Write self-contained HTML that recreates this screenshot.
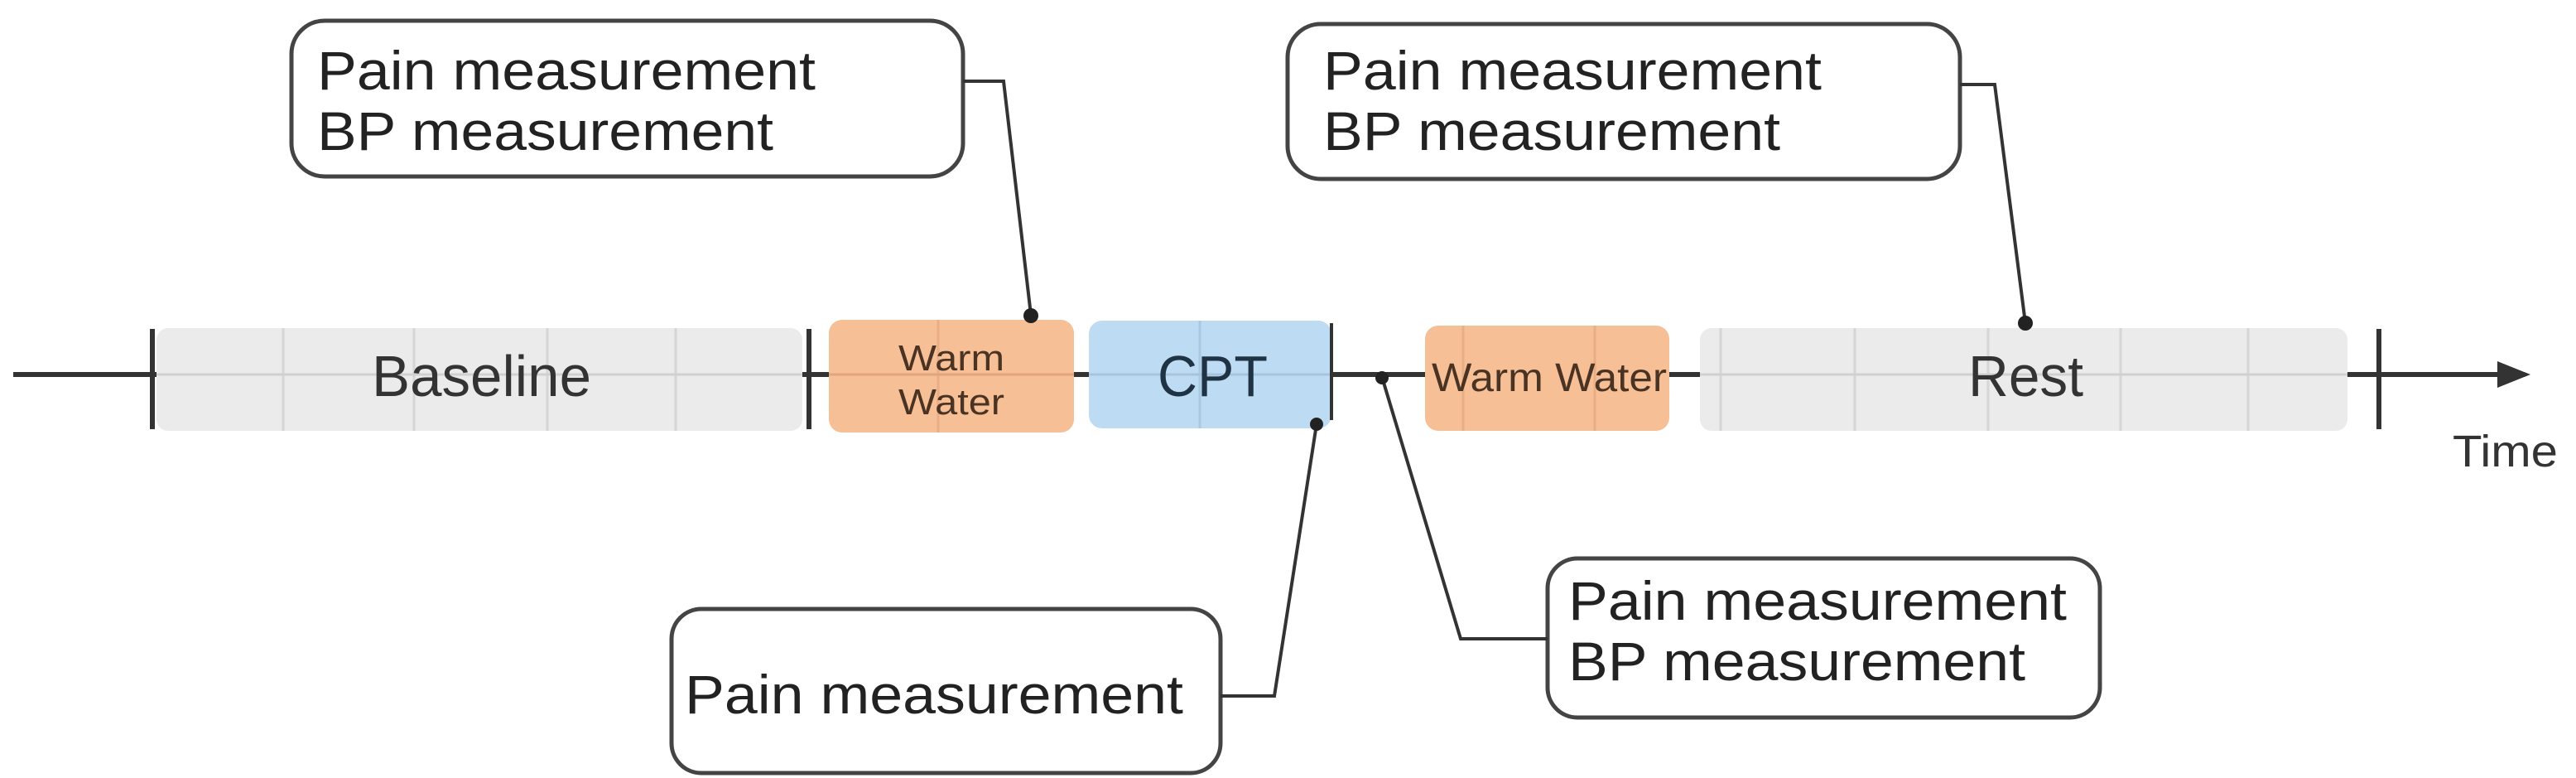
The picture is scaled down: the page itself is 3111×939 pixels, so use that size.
<!DOCTYPE html>
<html><head><meta charset="utf-8"><style>
html,body{margin:0;padding:0;background:#fff;}
svg{display:block;}
text{font-family:"Liberation Sans",sans-serif;}
</style></head><body>
<svg width="3111" height="939" viewBox="0 0 3111 939" xmlns="http://www.w3.org/2000/svg">
<line x1="16" y1="452" x2="3030" y2="452" stroke="#333" stroke-width="6"/>
<polygon points="3056,452 3016,436 3016,468" fill="#333"/>
<rect x="189" y="396" width="780" height="124" rx="14" fill="#ebebeb"/>
<g stroke="#d6d6d6" stroke-width="3">
<line x1="342" y1="396" x2="342" y2="520"/><line x1="500" y1="396" x2="500" y2="520"/>
<line x1="661" y1="396" x2="661" y2="520"/><line x1="816" y1="396" x2="816" y2="520"/>
<line x1="189" y1="452" x2="969" y2="452" stroke="#d0d0d0"/>
</g>
<rect x="1001" y="386" width="296" height="136" rx="16" fill="#f6bf96"/>
<line x1="1133" y1="386" x2="1133" y2="522" stroke="#eaae86" stroke-width="3"/>
<line x1="1001" y1="452" x2="1297" y2="452" stroke="#e0a57e" stroke-width="3"/>
<rect x="1315" y="387" width="293" height="130" rx="16" fill="#bddcf3"/>
<line x1="1449" y1="387" x2="1449" y2="517" stroke="#a9c9e2" stroke-width="3"/>
<line x1="1315" y1="452" x2="1608" y2="452" stroke="#a7c4dc" stroke-width="3"/>
<rect x="1721" y="393" width="295" height="127" rx="16" fill="#f6bf96"/>
<g stroke="#eaae86" stroke-width="3"><line x1="1767" y1="393" x2="1767" y2="520"/><line x1="1926" y1="393" x2="1926" y2="520"/></g>
<rect x="2053" y="396" width="782" height="124" rx="14" fill="#ebebeb"/>
<g stroke="#d6d6d6" stroke-width="3">
<line x1="2078" y1="396" x2="2078" y2="520"/><line x1="2240" y1="396" x2="2240" y2="520"/>
<line x1="2401" y1="396" x2="2401" y2="520"/><line x1="2561" y1="396" x2="2561" y2="520"/>
<line x1="2715" y1="396" x2="2715" y2="520"/>
<line x1="2053" y1="452" x2="2835" y2="452" stroke="#d0d0d0"/>
</g>
<g stroke="#333" stroke-width="6">
<line x1="184" y1="397" x2="184" y2="518"/><line x1="977" y1="397" x2="977" y2="518"/>
<line x1="2873" y1="397" x2="2873" y2="518"/>
</g>
<line x1="1608" y1="390" x2="1608" y2="507" stroke="#333" stroke-width="4"/>
<text x="449" y="478" font-size="70" fill="#333" textLength="265" lengthAdjust="spacingAndGlyphs">Baseline</text>
<text x="1149" y="447" font-size="44" fill="#4a3322" text-anchor="middle" textLength="128" lengthAdjust="spacingAndGlyphs">Warm</text>
<text x="1149" y="500" font-size="44" fill="#4a3322" text-anchor="middle" textLength="128" lengthAdjust="spacingAndGlyphs">Water</text>
<text x="1398" y="478" font-size="70" fill="#1f3345" textLength="133" lengthAdjust="spacingAndGlyphs">CPT</text>
<text x="1729" y="472" font-size="48" fill="#4a3322" textLength="284" lengthAdjust="spacingAndGlyphs">Warm Water</text>
<text x="2377" y="478" font-size="70" fill="#333" textLength="139" lengthAdjust="spacingAndGlyphs">Rest</text>
<text x="2962" y="563" font-size="54" fill="#333" textLength="127" lengthAdjust="spacingAndGlyphs">Time</text>
<g fill="#fff" stroke="#444" stroke-width="5">
<rect x="352" y="25" width="811" height="188" rx="40"/>
<rect x="1555" y="29" width="812" height="187" rx="40"/>
<rect x="811" y="735" width="663" height="198" rx="36"/>
<rect x="1869" y="674" width="667" height="192" rx="36"/>
</g>
<g fill="none" stroke="#333" stroke-width="4">
<polyline points="1163,98 1212,98 1245,380"/>
<polyline points="2367,102 2409,102 2446,390"/>
<polyline points="1474,840 1539,840 1590,512"/>
<polyline points="1869,771 1764,771 1669,455"/>
</g>
<g fill="#222">
<circle cx="1245" cy="381" r="9"/><circle cx="2446" cy="390" r="9"/>
<circle cx="1590" cy="512" r="8"/><circle cx="1669" cy="456" r="8"/>
</g>
<g font-size="66" fill="#222">
<text x="383" y="108" textLength="602" lengthAdjust="spacingAndGlyphs">Pain measurement</text>
<text x="383" y="181" textLength="551" lengthAdjust="spacingAndGlyphs">BP measurement</text>
<text x="1598" y="108" textLength="602" lengthAdjust="spacingAndGlyphs">Pain measurement</text>
<text x="1598" y="181" textLength="552" lengthAdjust="spacingAndGlyphs">BP measurement</text>
<text x="827" y="861" textLength="602" lengthAdjust="spacingAndGlyphs">Pain measurement</text>
<text x="1894" y="748" textLength="602" lengthAdjust="spacingAndGlyphs">Pain measurement</text>
<text x="1894" y="821" textLength="552" lengthAdjust="spacingAndGlyphs">BP measurement</text>
</g>
</svg>
</body></html>
